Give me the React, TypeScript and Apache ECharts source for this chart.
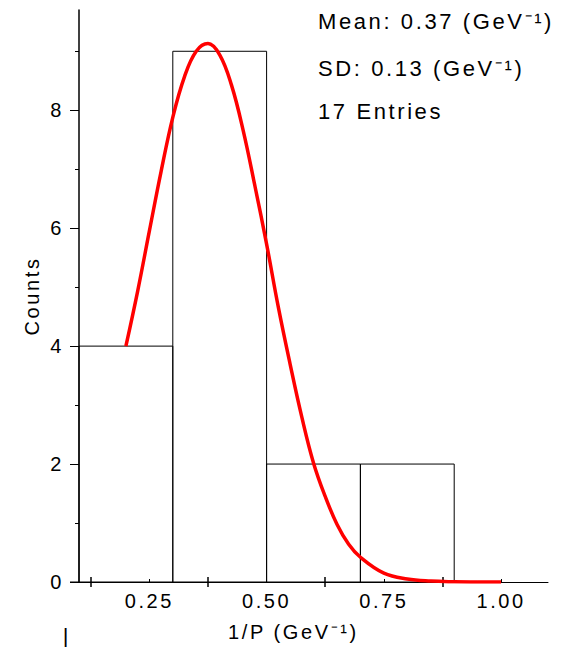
import React, { useEffect, useRef } from "react";
import * as echarts from "echarts";

// Histogram bins (1/P in GeV^-1) and counts
const binStart = [0.1, 0.3, 0.5, 0.7];
const binEnd = [0.3, 0.5, 0.7, 0.9];
const counts = [4, 9, 2, 2];

// Gaussian fit curve
const curveX = [0.2, 0.225, 0.25, 0.275, 0.3, 0.325, 0.35, 0.375, 0.4, 0.425, 0.45, 0.475, 0.5, 0.525, 0.55, 0.575, 0.6, 0.625, 0.65, 0.675, 0.7, 0.75, 0.8, 0.85, 0.9, 0.95, 1.0];
const curveY = [4.0, 4.93, 5.95, 6.96, 7.88, 8.57, 9.0, 9.13, 8.94, 8.43, 7.66, 6.72, 5.73, 4.66, 3.7, 2.8, 2.02, 1.45, 0.98, 0.64, 0.42, 0.15, 0.05, 0.015, 0.004, 0.001, 0.0];

// Axis ticks / labels
const xLabelValues = [0.25, 0.5, 0.75, 1.0];
const xMajorTicks = [0.125, 0.375, 0.625, 0.875];
const xMinorTicks = [0.25, 0.5, 0.75, 1.0];
const yLabelValues = [0, 2, 4, 6, 8];
const yMinorTicks = [1, 3, 5, 7, 9];

// Annotation texts
const statLines = ["Mean: 0.37 (GeV\u207B\u00B9)", "SD: 0.13 (GeV\u207B\u00B9)", "17 Entries"];
const xAxisTitle = "1/P (GeV\u207B\u00B9)";
const yAxisTitle = "Counts";

const FONT = "'Liberation Sans', Arial, Helvetica, sans-serif";

export default function App() {
  const ref = useRef<HTMLDivElement>(null);

  useEffect(() => {
    if (!ref.current) return;
    const chart = echarts.init(ref.current, undefined, { renderer: "svg" });

    const xMin = 0.1;
    const xMax = 1.1;
    const yMin = 0;
    const yMax = 9.7;

    const histData = binStart.map((s, i) => [s, binEnd[i], counts[i]]);
    const curveData = curveX.map((x, i) => [x, curveY[i]]);

    const option: any = {
      animation: false,
      backgroundColor: "#fff",
      grid: {
        left: 79,
        right: 19,
        top: 10,
        bottom: 65,
        containLabel: false,
        outerBoundsMode: "none",
      },
      xAxis: [
        {
          type: "value",
          min: xMin,
          max: xMax,
          position: "bottom",
          axisLine: { show: true, onZero: false, lineStyle: { color: "#000", width: 1 } },
          axisTick: {
            show: true,
            customValues: xMajorTicks,
            inside: false,
            length: 5,
            lineStyle: { color: "#000", width: 1.5 },
          },
          axisLabel: {
            show: true,
            customValues: xLabelValues,
            formatter: (v: number) => v.toFixed(2),
            fontSize: 20,
            fontFamily: FONT,
            color: "#000",
            margin: 9,
          },
          splitLine: { show: false },
        },
        {
          type: "value",
          min: xMin,
          max: xMax,
          position: "bottom",
          axisLine: { show: false, onZero: false },
          axisTick: {
            show: true,
            customValues: xMajorTicks,
            inside: true,
            length: 5,
            lineStyle: { color: "#000", width: 1.5 },
          },
          axisLabel: { show: false },
          splitLine: { show: false },
        },
        {
          type: "value",
          min: xMin,
          max: xMax,
          position: "bottom",
          axisLine: { show: false, onZero: false },
          axisTick: {
            show: true,
            customValues: xMinorTicks,
            inside: true,
            length: 3,
            lineStyle: { color: "#000", width: 1 },
          },
          axisLabel: { show: false },
          splitLine: { show: false },
        },
      ],
      yAxis: [
        {
          type: "value",
          min: yMin,
          max: yMax,
          position: "left",
          name: yAxisTitle,
          nameLocation: "middle",
          nameGap: 33,
          nameTextStyle: { fontSize: 20, fontFamily: FONT, color: "#000" },
          axisLine: { show: true, onZero: false, lineStyle: { color: "#000", width: 1.5 } },
          axisTick: {
            show: true,
            customValues: yLabelValues,
            inside: false,
            length: 9,
            lineStyle: { color: "#000", width: 1 },
          },
          axisLabel: {
            show: true,
            customValues: yLabelValues,
            fontSize: 20,
            fontFamily: FONT,
            color: "#000",
            margin: 15,
          },
          splitLine: { show: false },
        },
        {
          type: "value",
          min: yMin,
          max: yMax,
          position: "left",
          axisLine: { show: false, onZero: false },
          axisTick: {
            show: true,
            customValues: yMinorTicks,
            inside: false,
            length: 4,
            lineStyle: { color: "#000", width: 1 },
          },
          axisLabel: { show: false },
          splitLine: { show: false },
        },
      ],
      series: [
        {
          type: "custom",
          name: "hist",
          xAxisIndex: 0,
          yAxisIndex: 0,
          encode: { x: [0, 1], y: 2 },
          data: histData,
          renderItem: (params: any, api: any) => {
            const x0 = api.value(0);
            const x1 = api.value(1);
            const y = api.value(2);
            const p0 = api.coord([x0, y]);
            const p1 = api.coord([x1, 0]);
            return {
              type: "rect",
              shape: { x: p0[0], y: p0[1], width: p1[0] - p0[0], height: p1[1] - p0[1] },
              style: { fill: "none", stroke: "#000", lineWidth: 1 },
            };
          },
          z: 2,
        },
        {
          type: "line",
          name: "fit",
          xAxisIndex: 0,
          yAxisIndex: 0,
          data: curveData,
          smooth: 0.4,
          showSymbol: false,
          symbol: "none",
          lineStyle: { color: "#ff0000", width: 3.5 },
          z: 3,
        },
      ],
      graphic: [
        {
          type: "line",
          shape: { x1: 70, y1: 582, x2: 79, y2: 582 },
          style: { stroke: "#000", lineWidth: 1 },
          silent: true,
        },
        ...statLines.map((t, i) => ({
          type: "text",
          x: 318,
          y: [21, 68, 111][i],
          style: {
            text: t,
            fontSize: 22,
            fontFamily: FONT,
            fill: "#000",
            align: "left",
            verticalAlign: "middle",
          },
        })),
        {
          type: "text",
          x: 228,
          y: 632,
          style: {
            text: xAxisTitle,
            fontSize: 20,
            fontFamily: FONT,
            fill: "#000",
            align: "left",
            verticalAlign: "middle",
          },
        },
        {
          type: "text",
          x: 67,
          y: 636,
          style: {
            text: "|",
            fontSize: 22,
            fontFamily: FONT,
            fill: "#000",
            align: "center",
            verticalAlign: "middle",
          },
        },
      ],
    };

    chart.setOption(option);
    return () => {
      chart.dispose();
    };
  }, []);

  return (
    <div
      ref={ref}
      style={{
        position: "fixed",
        left: 0,
        top: 0,
        width: 567,
        height: 647,
        background: "#fff",
        letterSpacing: "2.6px",
      }}
    />
  );
}
